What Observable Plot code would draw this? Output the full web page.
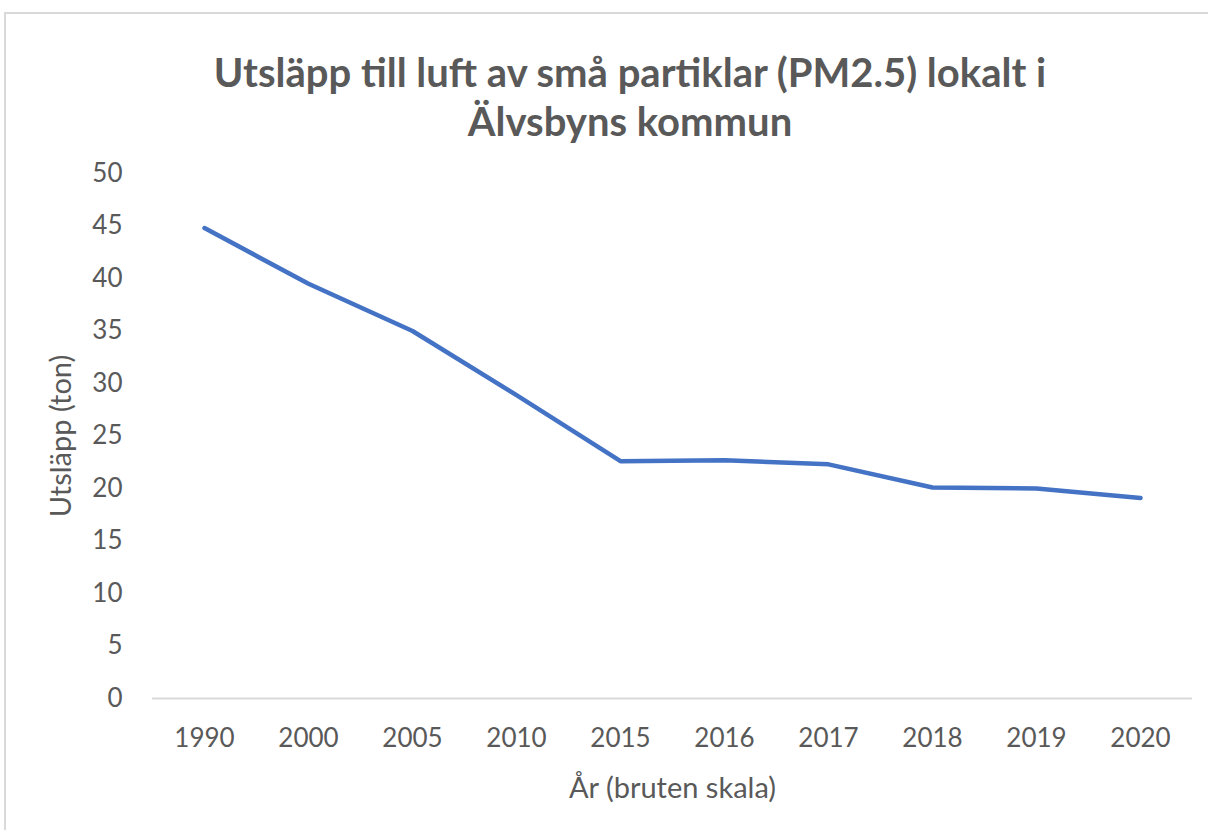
<!DOCTYPE html>
<html>
<head>
<meta charset="utf-8">
<script src="https://cdn.jsdelivr.net/npm/d3@7"></script>
<script src="https://cdn.jsdelivr.net/npm/@observablehq/plot@0.6"></script>
<style>
  html, body { margin: 0; padding: 0; background: #fff; width: 1208px; height: 830px; overflow: hidden; font-family: Lato, "Open Sans", sans-serif; }
  #frame { position: absolute; left: 4px; top: 12px; width: 1250px; height: 900px; border: 2px solid #d9d9d9; box-sizing: border-box; }
  #title { position: absolute; left: 0; top: 48px; width: 1260px; text-align: center; font-weight: bold; font-size: 40px; line-height: 49px; color: #595959; }
  #chart { position: absolute; left: 0; top: 0; }
</style>
</head>
<body>
<div id="frame"></div>
<div id="chart"></div>
<div id="title">Utsläpp till luft av små partiklar (PM2.5) lokalt i<br>Älvsbyns kommun</div>
<script>
const years = ["1990", "2000", "2005", "2010", "2015", "2016", "2017", "2018", "2019", "2020"];
const emissions = [44.8, 39.5, 35.0, 28.9, 22.6, 22.7, 22.3, 20.1, 20.0, 19.1];
const yTicks = [0, 5, 10, 15, 20, 25, 30, 35, 40, 45, 50];
const yLabel = "Utsläpp (ton)";
const xLabel = "År (bruten skala)";

const data = years.map((y, i) => ({year: y, value: emissions[i]}));

const chart = Plot.plot({
  width: 1208,
  height: 830,
  marginTop: 173,
  marginBottom: 132,
  marginLeft: 152,
  marginRight: 16,
  style: {fontFamily: "Lato, 'Open Sans', sans-serif", fontSize: "26px", color: "#595959", background: "transparent"},
  x: {type: "point", domain: years, padding: 0.5, label: null},
  y: {domain: [0, 50], label: null},
  marks: [
    Plot.ruleY([0], {stroke: "#d9d9d9", strokeWidth: 2}),
    Plot.axisY({ticks: yTicks, tickSize: 0, tickPadding: 30, label: null, fontSize: 26}),
    Plot.axisY({ticks: [], tickSize: 0, label: yLabel, labelAnchor: "center", labelArrow: "none", labelOffset: 102, fontSize: 29}),
    Plot.axisX({tickSize: 0, tickPadding: 30, label: null, fontSize: 26}),
    Plot.axisX({ticks: [], tickSize: 0, label: xLabel, labelAnchor: "center", labelArrow: "none", labelOffset: 99, fontSize: 29}),
    Plot.line(data, {x: "year", y: "value", stroke: "#4472c4", strokeWidth: 4.5, strokeLinecap: "round", strokeLinejoin: "round"})
  ]
});
document.getElementById("chart").appendChild(chart);
</script>
</body>
</html>
